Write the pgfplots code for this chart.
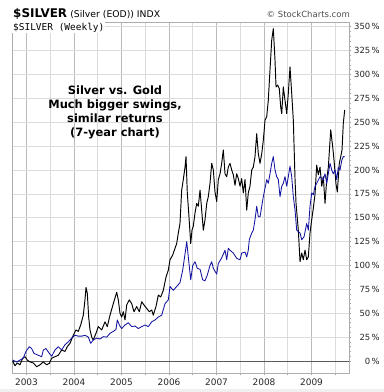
\documentclass[border=0pt]{standalone}
\usepackage{fontspec}
\setmainfont{DejaVu Sans}
\newfontfamily\monofont{DejaVu Sans Mono}
\usepackage{pgfplots}
\usepackage{pgfplotstable}
\pgfplotsset{compat=1.18}
\definecolor{goldc}{RGB}{18,18,160}
\definecolor{silverc}{RGB}{0,0,0}

\pgfplotstableread{
year pct
2002.709 0
2002.758 -5
2002.806 -2
2002.863 -4
2002.920 3
2002.968 4.5
2003.017 1
2003.074 -1
2003.143 -2
2003.215 -6
2003.284 -4
2003.354 -1
2003.425 -4
2003.480 -2.5
2003.530 3
2003.600 4.5
2003.669 6
2003.741 11.5
2003.810 10
2003.859 15
2003.916 18.5
2003.985 27
2004.042 32.5
2004.090 31
2004.141 37.7
2004.196 48
2004.231 64
2004.253 77
2004.280 71
2004.309 46
2004.337 32.5
2004.373 25
2004.406 22
2004.463 29
2004.511 36
2004.583 32.5
2004.653 41
2004.701 36
2004.758 48
2004.827 60
2004.899 72
2004.933 64
2004.968 50
2005.004 46
2005.038 51.6
2005.074 43
2005.109 58.6
2005.164 64
2005.215 60
2005.263 51.6
2005.320 57
2005.375 51.6
2005.425 62
2005.474 58.6
2005.530 55
2005.585 51.6
2005.636 53.4
2005.669 48
2005.726 57
2005.775 69
2005.825 67
2005.880 74
2005.937 88
2005.985 95
2006.021 106
2006.078 111
2006.126 118
2006.162 123
2006.196 134
2006.231 144
2006.267 179
2006.301 190
2006.337 203
2006.358 214
2006.385 176
2006.415 155
2006.457 123
2006.484 137
2006.511 141
2006.547 155
2006.583 165
2006.617 162
2006.653 179
2006.688 158
2006.722 137
2006.758 148
2006.794 165
2006.827 172
2006.863 186
2006.899 207
2006.933 200
2006.968 177
2007.004 167
2007.038 190
2007.074 196
2007.109 207
2007.143 221
2007.179 196
2007.215 193
2007.248 203
2007.284 207
2007.320 200
2007.354 195
2007.389 184
2007.425 196
2007.459 191
2007.495 183
2007.530 191
2007.564 176
2007.600 190
2007.636 158
2007.669 176
2007.705 183
2007.741 200
2007.775 203
2007.810 214
2007.846 238
2007.880 217
2007.916 207
2007.952 217
2007.985 231
2008.021 252
2008.057 256
2008.090 273
2008.126 305
2008.162 336
2008.196 348
2008.231 315
2008.253 287
2008.288 289
2008.322 285
2008.351 266
2008.373 259
2008.406 287
2008.442 273
2008.478 259
2008.511 280
2008.547 308
2008.583 280
2008.617 252
2008.653 190
2008.674 165
2008.722 137
2008.758 104
2008.794 113
2008.827 106
2008.863 116
2008.899 106
2008.933 109
2008.968 134
2009.004 148
2009.038 160
2009.074 175
2009.109 205
2009.143 195
2009.179 203
2009.215 183
2009.248 193
2009.284 165
2009.320 190
2009.354 203
2009.404 242
2009.446 224
2009.474 210
2009.516 185
2009.543 177
2009.585 207
2009.615 214
2009.642 221
2009.669 249
2009.699 263
}\silvertable

\pgfplotstableread{
year pct
2002.709 1
2002.794 -1
2002.863 1
2002.933 3
2002.989 10
2003.059 15
2003.109 13
2003.158 8
2003.248 6
2003.320 4.5
2003.354 11.5
2003.410 13
2003.480 8
2003.530 5
2003.600 11.5
2003.669 15
2003.741 11.5
2003.810 17
2003.880 20
2003.952 24
2004.021 27
2004.090 26
2004.162 26
2004.231 27
2004.301 25
2004.351 18.5
2004.406 22
2004.478 24
2004.547 23
2004.617 25.5
2004.688 25
2004.758 29
2004.827 31
2004.884 33
2004.911 43
2004.954 37.7
2005.004 34
2005.074 37.7
2005.143 40
2005.215 36
2005.284 36.6
2005.354 34
2005.425 36
2005.495 37.7
2005.564 36
2005.636 41
2005.705 43
2005.775 46
2005.846 48
2005.916 60
2005.985 64
2006.021 78
2006.090 74
2006.162 78
2006.231 82
2006.288 95
2006.337 112
2006.373 125
2006.406 109
2006.457 85
2006.499 100
2006.547 104
2006.596 97
2006.653 96
2006.709 85
2006.758 84
2006.806 90
2006.863 100
2006.899 104
2006.933 97
2007.004 91
2007.038 102
2007.109 108
2007.179 116
2007.215 106
2007.248 118
2007.284 116
2007.354 113
2007.425 107.5
2007.495 106
2007.530 113
2007.600 114
2007.636 109
2007.669 116
2007.690 127
2007.741 134
2007.775 137
2007.810 148
2007.846 162
2007.880 151
2007.916 151
2007.952 162
2007.985 172
2008.021 181
2008.057 190
2008.090 186
2008.126 196
2008.162 207
2008.196 214
2008.231 200
2008.267 193
2008.301 190
2008.337 172
2008.373 183
2008.406 186
2008.442 193
2008.478 183
2008.511 193
2008.547 204
2008.583 193
2008.617 172
2008.653 158
2008.688 137
2008.758 134
2008.794 127
2008.842 130
2008.899 144
2008.933 137
2008.968 162
2009.004 176
2009.038 174
2009.074 183
2009.109 186
2009.179 193
2009.248 190
2009.284 196
2009.320 186
2009.389 207
2009.425 200
2009.459 196
2009.495 200
2009.530 190
2009.564 203
2009.600 200
2009.636 210
2009.669 214
2009.699 214
}\goldtable

\begin{document}
\begin{tikzpicture}[x=1bp,y=1bp]
\useasboundingbox (0,0) rectangle (384,392);
\fill[black!6] (0,0) rectangle (384,3);
\begin{axis}[
  at={(12bp,19bp)}, anchor=south west, scale only axis,
  width=337bp, height=351bp,
  xmin=2002.695, xmax=2009.789, ymin=-12.57, ymax=354.97,
  axis line style={draw=black!32, line width=0.8bp},
  every tick/.style={draw=black!35, line width=0.6bp},
  tick align=outside,
  major tick length=2bp, minor tick length=2bp,
  xtick pos=left, ytick pos=right,
  xtick={2003,2004,2005,2006,2007,2008,2009},
  xticklabels={2003,2004,2005,2006,2007,2008,2009},
  minor xtick={2003.5,2004.5,2005.5,2006.5,2007.5,2008.5,2009.5},
  ytick={0,25,...,350},
  minor y tick num=4,
  yticklabel pos=right,
  yticklabel={\pgfmathprintnumber[assume math mode=true]{\tick}\,\%},
  yticklabel style={anchor=east, inner sep=0pt, xshift=29bp, font=\fontsize{8.5}{10}\selectfont, text=black!85},
  xticklabel style={font=\fontsize{9}{10}\selectfont, text=black!85},
  xmajorgrids, xminorgrids, ymajorgrids,
  major x grid style={draw=black!27, line width=0.7bp},
  minor x grid style={draw=black!14, line width=0.7bp},
  y grid style={draw=black!14, line width=0.7bp},
]
\addplot[draw=black!65, line width=0.9bp, forget plot] coordinates {(2002.695,0) (2009.789,0)};
\addplot[silverc, line width=0.95bp, line join=round] table[x=year, y=pct] {\silvertable};
\addplot[goldc, line width=0.85bp, line join=round] table[x=year, y=pct] {\goldtable};
\node[anchor=north west, fill=white, inner sep=1bp, font=\monofont\fontsize{9.5}{10}\selectfont] at (axis description cs:0,1) {\$SILVER (Weekly)};
\end{axis}
\node[anchor=base west, inner sep=0pt] at (13,375) {{\fontsize{12}{13}\selectfont\bfseries \$SILVER} {\fontsize{9.3}{10}\selectfont (Silver (EOD)) INDX}};
\node[anchor=base east, inner sep=0pt, text=black!70, font=\fontsize{8.5}{10}\selectfont] at (350,375) {© StockCharts.com};
\node[align=center, inner sep=0pt, font=\fontsize{11.5}{14}\selectfont\bfseries] at (115,279.8) {Silver vs. Gold\\Much bigger swings,\\similar returns\\(7-year chart)};
\end{tikzpicture}
\end{document}
